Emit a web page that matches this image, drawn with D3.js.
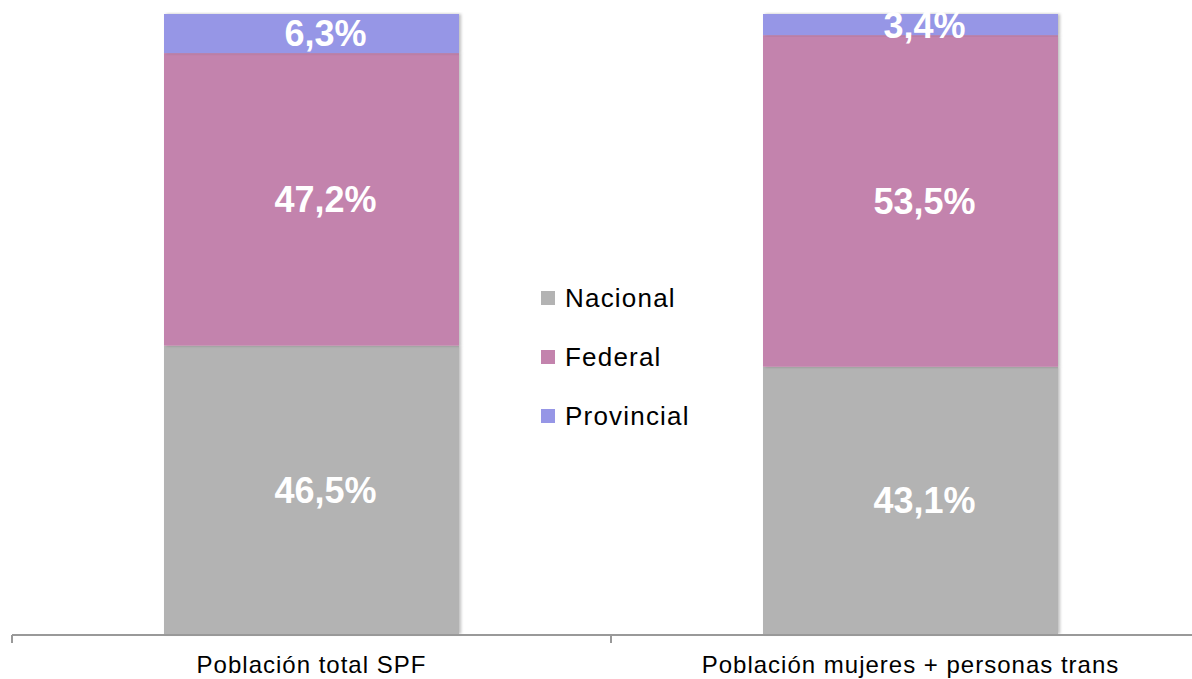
<!DOCTYPE html>
<html>
<head>
<meta charset="utf-8">
<script src="https://cdn.jsdelivr.net/npm/d3@7"></script>
<style>
  body { margin: 0; background: #fff; }
  svg { display: block; font-family: "Liberation Sans", Arial, sans-serif; }
</style>
</head>
<body>
<svg id="chart"></svg>
<script>
const width = 1192;
const height = 679;

const categories = ['Población total SPF', 'Población mujeres + personas trans'];
const series = ['Nacional', 'Federal', 'Provincial'];
const nacional = [46.5, 43.1];
const federal = [47.2, 53.5];
const provincial = [6.3, 3.4];
const colors = ['#b3b3b3', '#c383ad', '#9696e6'];

const rows = categories.map((c, i) => ({
  cat: c, Nacional: nacional[i], Federal: federal[i], Provincial: provincial[i]
}));
const stacked = d3.stack().keys(series)(rows);

const svg = d3.select('#chart')
  .attr('width', width)
  .attr('height', height)
  .attr('viewBox', [0, 0, width, height]);

const defs = svg.append('defs');
defs.append('filter').attr('id', 'shadow')
  .attr('x', '-5%').attr('y', '-5%').attr('width', '110%').attr('height', '110%')
  .append('feDropShadow')
  .attr('dx', 2).attr('dy', 0).attr('stdDeviation', 1.5)
  .attr('flood-color', '#000').attr('flood-opacity', 0.25);

const x = d3.scaleBand()
  .domain(categories)
  .range([12, 1210])
  .paddingInner(0)
  .paddingOuter(0);
const barW = 295;

const y = d3.scaleLinear()
  .domain([0, 100])
  .range([634, 14]);

const bars = svg.append('g').attr('id', 'bars');

stacked.forEach((layer, si) => {
  bars.append('g')
    .attr('fill', colors[si])
    .selectAll('rect')
    .data(layer)
    .enter()
    .append('rect')
      .attr('x', d => x(d.data.cat) + (x.bandwidth() - barW) / 2)
      .attr('y', d => y(d[1]))
      .attr('width', barW)
      .attr('height', d => y(d[0]) - y(d[1]))
      .attr('filter', 'url(#shadow)');
});

// value labels (sit a bit right of the bar centre, like the original)
stacked.forEach((layer, si) => {
  bars.append('g')
    .selectAll('text')
    .data(layer)
    .enter()
    .append('text')
      .attr('x', d => x(d.data.cat) + x.bandwidth() / 2 + 14)
      .attr('y', d => (y(d[0]) + y(d[1])) / 2)
      .attr('dy', '0.36em')
      .attr('text-anchor', 'middle')
      .attr('fill', '#fff')
      .attr('font-weight', 'bold')
      .attr('font-size', 36)
      .text(d => d3.format('.1f')(d[1] - d[0]).replace('.', ',') + '%');
});

// axis
const axis = svg.append('g').attr('id', 'axis');
axis.append('line')
  .attr('x1', 12).attr('x2', width)
  .attr('y1', 635).attr('y2', 635)
  .attr('stroke', '#999').attr('stroke-width', 2);
axis.selectAll('line.tick')
  .data(categories)
  .enter()
  .append('line')
    .attr('class', 'tick')
    .attr('x1', d => x(d)).attr('x2', d => x(d))
    .attr('y1', 635).attr('y2', 643)
    .attr('stroke', '#999').attr('stroke-width', 2);
axis.selectAll('text')
  .data(categories)
  .enter()
  .append('text')
    .attr('x', d => x(d) + x.bandwidth() / 2)
    .attr('y', 673)
    .attr('text-anchor', 'middle')
    .attr('fill', '#000')
    .attr('font-size', 24)
    .attr('letter-spacing', 1)
    .text(d => d);

// legend
const legend = svg.append('g').attr('id', 'legend')
  .selectAll('g')
  .data(series)
  .enter()
  .append('g')
    .attr('transform', (d, i) => `translate(541, ${298 + i * 59})`);
legend.append('rect')
  .attr('x', 0).attr('y', -7)
  .attr('width', 14).attr('height', 14)
  .attr('fill', (d, i) => colors[i]);
legend.append('text')
  .attr('x', 24)
  .attr('dy', '0.36em')
  .attr('font-size', 26)
  .attr('letter-spacing', 1.2)
  .attr('fill', '#000')
  .text(d => d);
</script>
</body>
</html>
